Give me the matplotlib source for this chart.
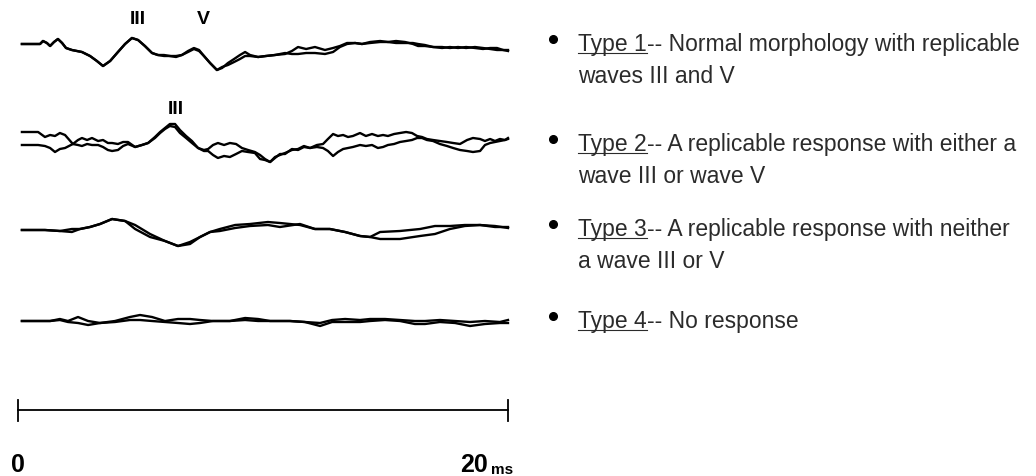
import numpy as np
import matplotlib.pyplot as plt

plt.rcParams['font.family'] = ['Liberation Sans', 'DejaVu Sans']

# TRACES: time (ms) and the two replicated recordings of each type (amplitude, up = positive, arbitrary units)
t1 = [0.16, 0.90, 1.02, 1.18, 1.31, 1.47, 1.63, 1.80, 1.96, 2.20,
      2.61, 2.94, 3.22, 3.47, 3.76, 4.08, 4.37, 4.65, 4.90, 5.18,
      5.47, 5.71, 5.96, 6.20, 6.45, 6.69, 6.94, 7.18, 7.39, 7.59,
      7.84, 8.12, 8.33, 8.57, 8.82, 9.06, 9.27, 9.47, 9.80, 10.12,
      10.49, 10.90, 11.18, 11.43, 11.76, 12.12, 12.53, 12.86, 13.14, 13.43,
      13.76, 14.04, 14.37, 14.78, 15.10, 15.43, 15.80, 16.12, 16.33, 16.61,
      16.94, 17.31, 17.63, 17.96, 18.29, 18.65, 18.98, 19.27, 19.55, 19.80, 20.00]
type1_a = [0, 0, 3, 1, -2, 2, 5, 1, -4, -6,
           -8, -12, -17, -22, -17, -8, 0, 6, 4, -2,
           -9, -11, -11, -12, -13, -11, -8, -5, -7, -12,
           -19, -26, -24, -19, -15, -11, -8, -11, -13, -12,
           -11, -10, -7, -3, -5, -3, -6, -4, -2, 1,
           1, 0, 2, 3, 2, 3, 2, 0, -2, -2,
           -3, -4, -3, -4, -3, -4, -5, -4, -4, -6, -6]
type1_b = [0, 0, 3, 1, -2, 2, 5, 1, -4, -6,
           -8, -12, -17, -22, -17, -8, 0, 6, 4, -2,
           -9, -11, -12, -12, -12, -11, -7, -4, -6, -12,
           -19, -26, -23, -21, -18, -15, -12, -12, -13, -12,
           -11, -9, -10, -10, -9, -9, -10, -8, -3, 0,
           1, 0, 1, 2, 2, 1, 1, 1, 0, -1,
           -3, -3, -4, -3, -4, -3, -4, -5, -6, -6, -7]

t2 = [0.16, 0.82, 1.10, 1.31, 1.51, 1.71, 1.92, 2.24, 2.45, 2.61,
      2.82, 3.02, 3.27, 3.47, 3.67, 3.84, 4.08, 4.29, 4.49, 4.78,
      5.06, 5.31, 5.59, 5.80, 6.00, 6.20, 6.41, 6.61, 6.86, 7.10,
      7.35, 7.59, 7.76, 7.96, 8.16, 8.41, 8.65, 8.90, 9.14, 9.39,
      9.67, 9.88, 10.08, 10.29, 10.49, 10.69, 10.90, 11.18, 11.43, 11.67,
      11.92, 12.20, 12.45, 12.65, 12.86, 13.06, 13.27, 13.47, 13.67, 13.96,
      14.20, 14.45, 14.69, 14.90, 15.10, 15.35, 15.59, 15.84, 16.08, 16.29,
      16.49, 16.69, 16.94, 17.22, 17.51, 17.76, 18.04, 18.33, 18.57, 18.86,
      19.06, 19.27, 19.47, 19.67, 19.88, 20.00]
type2_a = [13, 13, 8, 10, 9, 12, 10, 1, 0, -1,
           1, 0, 0, -2, -5, -6, -5, -1, 1, -2,
           0, 2, 8, 13, 17, 21, 21, 15, 9, 4,
           -3, -5, -4, 0, 2, 0, 2, 1, -3, -5,
           -7, -10, -14, -17, -12, -10, -8, -5, -4, -1,
           -3, 0, 1, 6, 11, 9, 10, 8, 9, 12,
           9, 11, 9, 10, 9, 11, 12, 13, 12, 9,
           8, 6, 5, 4, 3, 2, 1, 5, 7, 6,
           4, 6, 4, 6, 5, 7]
type2_b = [0, 0, -1, -3, -7, -4, -3, 1, 5, 7,
           5, 7, 4, 5, 2, 2, 1, 3, 3, -2,
           0, 2, 7, 12, 16, 19, 18, 12, 7, 2,
           -3, -6, -6, -10, -13, -11, -12, -9, -6, -7,
           -8, -14, -15, -17, -13, -9, -9, -4, -5, -2,
           -3, -2, -3, -6, -11, -7, -4, -3, -2, 0,
           -1, 0, -3, -2, 0, 1, 3, 4, 5, 7,
           7, 5, 4, 1, -1, -3, -5, -6, -7, -6,
           0, 2, 3, 4, 5, 6]

t3 = [0.16, 1.10, 1.71, 2.20, 2.53, 2.94, 3.35, 3.84, 4.37, 4.78,
      5.39, 6.00, 6.53, 7.02, 7.43, 7.84, 8.24, 8.86, 9.47, 10.20,
      10.69, 11.51, 12.12, 12.73, 13.35, 13.96, 14.37, 14.78, 15.59, 16.41,
      17.02, 17.63, 18.24, 18.86, 19.47, 20.00]
type3_a = [0, 0, -1, -2, 1, 3, 6, 11, 9, 5,
           -4, -11, -16, -12, -7, -2, 1, 5, 6, 8,
           7, 5, 1, 1, -2, -6, -7, -2, -1, 1,
           4, 4, 5, 5, 4, 2]
type3_b = [0, 0, -1, 1, 1, 3, 6, 11, 9, 1,
           -7, -11, -16, -14, -7, -2, -1, 2, 4, 5,
           3, 6, 1, 1, -2, -6, -7, -9, -9, -6,
           -4, 1, 4, 5, 3, 3]

t4 = [0.16, 1.31, 1.71, 2.04, 2.45, 2.86, 3.35, 3.96, 4.57, 4.98,
      5.47, 6.00, 6.53, 7.02, 7.43, 7.96, 8.65, 9.27, 9.80, 10.29,
      11.10, 11.71, 12.33, 12.82, 13.35, 13.96, 14.37, 14.98, 15.59, 16.20,
      16.61, 17.22, 17.84, 18.45, 19.06, 19.67, 20.00]
type4_a = [0, 0, 2, 0, 4, 0, -2, 0, 4, 6,
           4, 0, 2, 2, 1, 0, 0, 3, 2, 0,
           0, -1, -2, 1, 2, 1, 2, 2, 1, 0,
           0, 1, 0, -1, 0, -1, 1]
type4_b = [0, 0, 1, -1, -2, -4, -2, -1, 1, 1,
           0, -1, -2, -3, -2, 0, 0, 1, 0, 0,
           0, -1, -5, -1, -1, -1, 0, 1, 0, -3,
           -3, -1, -2, -5, -3, -2, -2]

# WAVE PEAK LABELS (row, time in ms, label)
wave_marks = [(0, 4.9, 'III'), (0, 7.55, 'V'), (1, 6.45, 'III')]
mark_lift = [25, 25, 36]

# DESCRIPTIONS
type_heads = ['Type 1', 'Type 2', 'Type 3', 'Type 4']
type_rest = ['-- Normal morphology with replicable',
             '-- A replicable response with either a',
             '-- A replicable response with neither',
             '-- No response']
type_second = ['waves III and V', 'wave III or wave V', 'a wave III or V', '']

scale_ms = 20

# LAYOUT (pixel units)
W, H = 1036, 477
px_per_ms = 24.5
x0_px = 18
baselines = [45, 146, 231, 322]
text_base = [51, 151, 236, 328]
line_gap = 32
fs = 16.5

fig = plt.figure(figsize=(W / 100, H / 100), dpi=100)
ax = fig.add_axes([0, 0, 1, 1])
ax.set_xlim(-x0_px / px_per_ms, (W - x0_px) / px_per_ms)
ax.set_ylim(H, 0)
ax.axis('off')

tax = fig.add_axes([0, 0, 1, 1])
tax.set_xlim(0, W)
tax.set_ylim(H, 0)
tax.axis('off')

rows = [(t1, type1_a, type1_b), (t2, type2_a, type2_b),
        (t3, type3_a, type3_b), (t4, type4_a, type4_b)]
for base, (t, a, b) in zip(baselines, rows):
    ax.plot(t, base - np.array(a), color='black', lw=1.7, solid_joinstyle='round')
    ax.plot(t, base - np.array(b), color='black', lw=1.7, solid_joinstyle='round')

for (row, tm, lab), lift in zip(wave_marks, mark_lift):
    ax.text(tm, baselines[row] - lift, lab, ha='center', va='center',
            fontsize=14, fontweight='bold', color='black')

# scale bar
ax.plot([0, scale_ms], [411, 411], color='black', lw=1.3)
ax.plot([0, 0], [401, 422], color='black', lw=1.3)
ax.plot([scale_ms, scale_ms], [401, 422], color='black', lw=1.3)
ax.text(0, 465, '0', ha='center', va='center', fontsize=18, fontweight='bold')
ax.text(scale_ms - 1.4, 465, '20', ha='center', va='center', fontsize=18, fontweight='bold')
ax.text(scale_ms - 0.7, 470, 'ms', ha='left', va='center', fontsize=11, fontweight='bold')

# right-hand descriptions with underlined type names
fig.canvas.draw()
r = fig.canvas.get_renderer()
txt_col = '#2b2b2b'
for i in range(4):
    y = text_base[i]
    tax.plot(553, y - 11, 'o', color='black', ms=5.5)
    h = tax.text(578, y, type_heads[i], ha='left', va='baseline', fontsize=fs, color=txt_col)
    bb = h.get_window_extent(r)
    tax.plot([578, bb.x1], [y + 3, y + 3], color=txt_col, lw=0.8)
    tax.text(bb.x1, y, type_rest[i], ha='left', va='baseline', fontsize=fs, color=txt_col)
    if type_second[i]:
        tax.text(578, y + line_gap, type_second[i], ha='left', va='baseline',
                 fontsize=fs, color=txt_col)

fig.savefig('out.png', dpi=100)
